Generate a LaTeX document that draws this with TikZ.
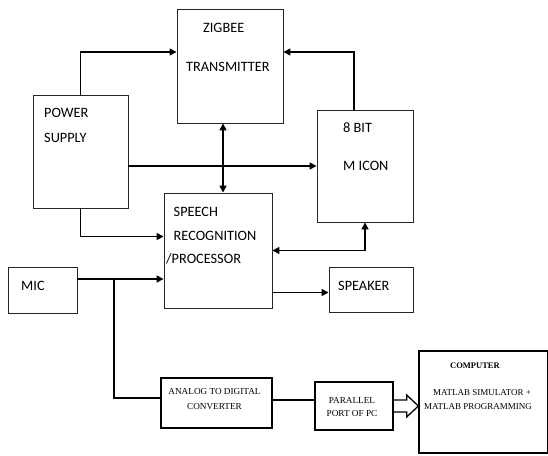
\documentclass[tikz,border=0pt]{standalone}
\usepackage{fontspec}
\setmainfont{Liberation Serif}
\newfontfamily\calibri{Carlito}
\usetikzlibrary{arrows.meta}
\tikzstyle{block}=[draw=black!85, line width=0.9pt, inner sep=0pt]
\tikzstyle{lowblock}=[draw=black, line width=1.3pt, inner sep=0pt]
\tikzstyle{wire}=[line width=1.6pt]
\tikzstyle{arr}=[wire, -{Triangle[length=7pt,width=7pt]}]
\tikzstyle{dblarr}=[wire, {Triangle[length=7pt,width=7pt]}-{Triangle[length=7pt,width=7pt]}]
\tikzstyle{txt}=[anchor=base west, inner sep=0pt, font=\calibri\fontsize{14.3}{16}\selectfont]
\tikzstyle{stxt}=[anchor=base, inner sep=0pt, font=\fontsize{9.2}{11}\selectfont]
\newcommand{\block}{\node[block]}

\begin{document}
\begin{tikzpicture}[x=1pt,y=-1pt]
\useasboundingbox (0,0) rectangle (548,455);
	\block[minimum width=106pt, minimum height=114pt] (zigbee) at (230,66) {};
	\block[minimum width=95pt, minimum height=113pt] (power) at (80.5,151.5) {};
	\block[minimum width=96pt, minimum height=112pt] (micon) at (365,166) {};
	\block[minimum width=108pt, minimum height=115pt] (speech) at (218,250.5) {};
	\block[minimum width=69pt, minimum height=46pt] (mic) at (42.5,290) {};
	\block[minimum width=84pt, minimum height=45pt] (speaker) at (371,289.5) {};
	\node[lowblock, minimum width=111pt, minimum height=50pt] (adc) at (216.5,403) {};
	\node[lowblock, minimum width=78pt, minimum height=48pt] (port) at (354,406) {};
	\node[lowblock, minimum width=129pt, minimum height=102pt] (computer) at (483.5,402) {};

	\node[txt] (zigbeeA) at (203,32) {ZIGBEE};
	\node[txt] (zigbeeB) at (186,71) {TRANSMITTER};
	\node[txt] (powerA) at (44,117) {POWER};
	\node[txt] (powerB) at (44,142) {SUPPLY};
	\node[txt] (miconA) at (343,132) {8 BIT};
	\node[txt] (miconB) at (343,170) {M ICON};
	\node[txt] (speechA) at (173.5,216) {SPEECH};
	\node[txt] (speechB) at (173.5,240) {RECOGNITION};
	\node[txt] (speechC) at (166,263) {/PROCESSOR};
	\node[txt] (micA) at (21,290) {MIC};
	\node[txt] (speakerA) at (338,290) {SPEAKER};
	\node[stxt] (adcA) at (214.5,394) {ANALOG TO DIGITAL};
	\node[stxt] (adcB) at (214.5,409) {CONVERTER};
	\node[stxt] (portA) at (352,403) {PARALLEL};
	\node[stxt] (portB) at (352,416) {PORT OF PC};
	\node[stxt, font=\bfseries\fontsize{8.5}{10}\selectfont] (compA) at (475,368) {COMPUTER};
	\node[stxt, font=\fontsize{9}{11}\selectfont] (compB) at (482,395) {MATLAB SIMULATOR +};
	\node[stxt, font=\fontsize{9}{11}\selectfont] (compC) at (478,409) {MATLAB PROGRAMMING};

	\coordinate (split) at (114,279);

	\draw[arr] (power.north) |- ([yshift=14pt]zigbee.west);
	\draw[arr] ([xshift=-11pt]micon.north) |- ([yshift=14pt]zigbee.east);
	\draw[arr] (power.east |- micon.west) -- (micon.west);
	\draw[dblarr] ([xshift=-7pt]zigbee.south) -- ([xshift=-7pt]zigbee.south |- speech.north);
	\draw[arr] (power.south) |- ([yshift=14pt]speech.west);
	\draw[dblarr] (speech.east) -| (micon.south);
	\draw[arr] ([yshift=11pt]mic.east) -- ([yshift=11pt]mic.east -| speech.west);
	\draw[wire] (split) |- ([yshift=5pt]adc.west);
	\draw[arr] ([yshift=-3pt]speech.east |- speaker.west) -- ([yshift=-3pt]speaker.west);
	\draw[wire] ([yshift=3pt]adc.east) -- ([yshift=3pt]adc.east -| port.west);
	\draw[line width=1.3pt, line join=miter]
		([yshift=6pt]port.east) -- ([xshift=13pt,yshift=6pt]port.east)
		-- ([xshift=13pt,yshift=11pt]port.east) -- (port.east -| computer.west)
		-- ([xshift=13pt,yshift=-11pt]port.east) -- ([xshift=13pt,yshift=-6pt]port.east)
		-- ([yshift=-6pt]port.east);
\end{tikzpicture}
\end{document}
